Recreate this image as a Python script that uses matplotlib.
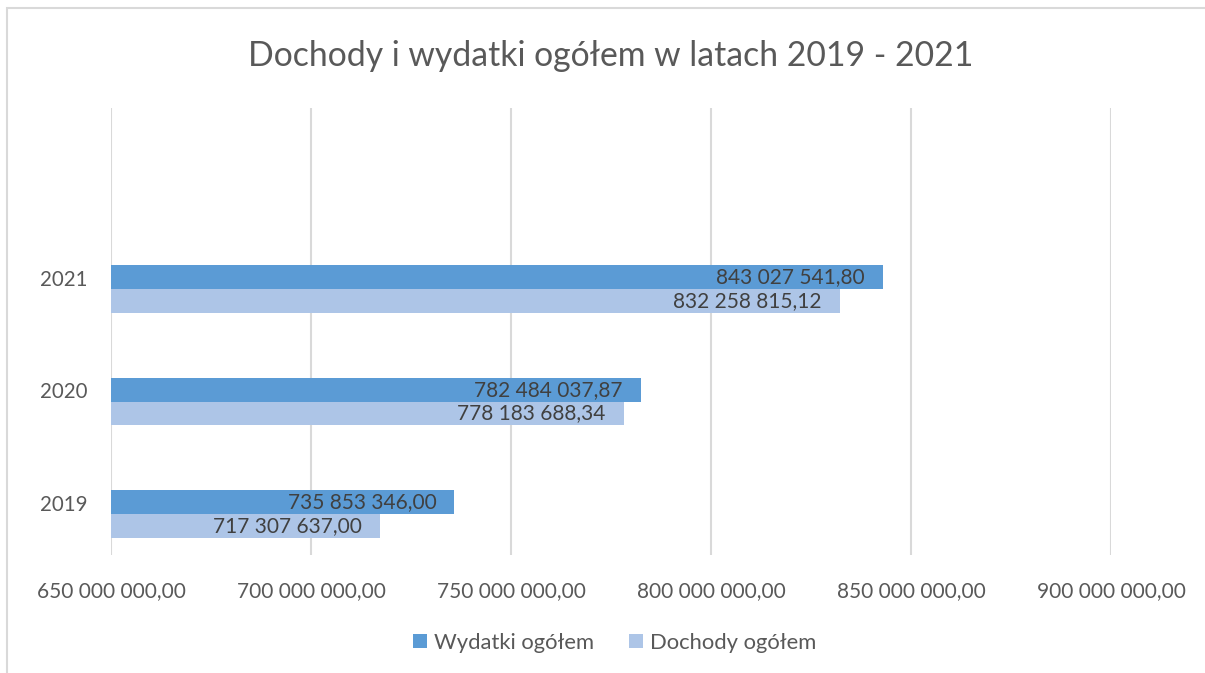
import numpy as np
import matplotlib
matplotlib.use('Agg')
import matplotlib.pyplot as plt
from matplotlib.patches import Rectangle

years = ['2019', '2020', '2021']
wydatki = [735853346.00, 782484037.87, 843027541.80]
dochody = [717307637.00, 778183688.34, 832258815.12]
xticks = [650e6, 700e6, 750e6, 800e6, 850e6, 900e6]

def fmt(v):
    s = '{:,.2f}'.format(v)
    return s.replace(',', ' ').replace('.', ',')

plt.rcParams['font.family'] = ['Lato', 'DejaVu Sans']

fig = plt.figure(figsize=(12.05, 6.73), dpi=100)
ax = fig.add_axes([111/1205, 1-555/673, 1000/1205, 447/673])

# chart border (only top and left visible in the reference)
fig.patches.append(Rectangle((6.5/1205, -0.05), 1.1, 0.05 + 1 - 8.5/673,
                             transform=fig.transFigure, fill=False,
                             edgecolor='#D9D9D9', lw=1.5))

y = np.arange(len(years))
h = 0.21
c_w = '#5B9BD5'
c_d = '#ADC5E7'
ax.barh(y + h/2, wydatki, height=h, left=0, color=c_w, label='Wydatki ogółem', zorder=2)
ax.barh(y - h/2, dochody, height=h, left=0, color=c_d, label='Dochody ogółem', zorder=2)

for i in range(len(years)):
    ax.annotate(fmt(wydatki[i]), (wydatki[i], y[i] + h/2), xytext=(-13, 0),
                textcoords='offset points', ha='right', va='center',
                fontsize=15, color='#404040', zorder=3)
    ax.annotate(fmt(dochody[i]), (dochody[i], y[i] - h/2), xytext=(-13, 0),
                textcoords='offset points', ha='right', va='center',
                fontsize=15, color='#404040', zorder=3)

ax.set_xlim(650e6, 900e6)
ax.set_ylim(-0.364, 3.61)
ax.set_xticks(xticks)
ax.set_xticklabels([fmt(v) for v in xticks])
# category labels sit slightly above the bar pair in the original
ax.set_yticks(y + 0.1)
ax.set_yticklabels(years)
ax.tick_params(axis='x', length=0, pad=19, labelsize=15, labelcolor='#595959')
ax.tick_params(axis='y', length=0, pad=17, labelsize=14.8, labelcolor='#595959')
ax.grid(axis='x', color='#D9D9D9', lw=1.5, zorder=0)
for s in ax.spines.values():
    s.set_visible(False)

fig.text(611/1205, 1-56/673, 'Dochody i wydatki ogółem w latach 2019 - 2021',
         ha='center', va='center', fontsize=24.3, color='#595959')

leg = fig.legend(loc='center', bbox_to_anchor=(615/1205, 1-643/673), ncol=2,
                 frameon=False, fontsize=15.8, handlelength=0.6, handleheight=0.6,
                 handletextpad=0.35, columnspacing=1.6)
for t in leg.get_texts():
    t.set_color('#595959')

fig.savefig('out.png', dpi=100, facecolor='white')
